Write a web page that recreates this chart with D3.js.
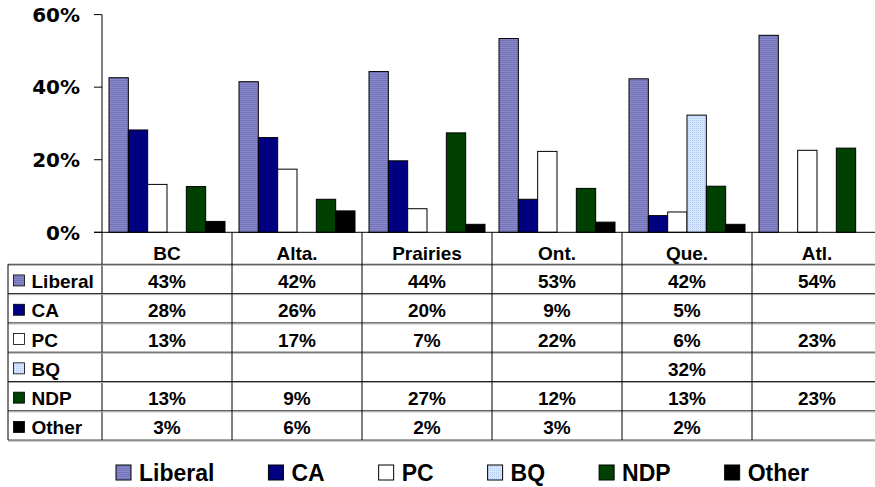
<!DOCTYPE html>
<html>
<head>
<meta charset="utf-8">
<script src="https://cdn.jsdelivr.net/npm/d3@7"></script>
<style>
  body { margin: 0; background: #fff; }
  svg { display: block; }
</style>
</head>
<body>
<div id="chart"></div>
<script>
// regions (columns) and parties (series)
const regions = ["BC", "Alta.", "Prairies", "Ont.", "Que.", "Atl."];
const parties = ["Liberal", "CA", "PC", "BQ", "NDP", "Other"];

// vote share by party, one value per region (null = no entry)
const liberal = [42.6, 41.5, 44.3, 53.4, 42.3, 54.3];
const ca      = [28.2, 26.1, 19.7, 9.1, 4.6, null];
const pc      = [13.2, 17.4, 6.5, 22.3, 5.6, 22.6];
const bq      = [null, null, null, null, 32.3, null];
const ndp     = [12.6, 9.1, 27.4, 12.1, 12.7, 23.2];
const other   = [3.0, 5.9, 2.2, 2.8, 2.2, null];

const yTicks = [0, 20, 40, 60];

const seriesValues = [liberal, ca, pc, bq, ndp, other];

const width = 875, height = 487;
const svg = d3.select("#chart").append("svg")
  .attr("width", width)
  .attr("height", height);

const defs = svg.append("defs");
// striped fill for Liberal
let pl = defs.append("pattern").attr("id", "libFill")
  .attr("patternUnits", "userSpaceOnUse").attr("width", 4).attr("height", 2);
pl.append("rect").attr("width", 4).attr("height", 2).attr("fill", "#8a8acb");
pl.append("rect").attr("width", 4).attr("height", 1).attr("fill", "#7373b9");
// dotted fill for BQ
let pb = defs.append("pattern").attr("id", "bqFill")
  .attr("patternUnits", "userSpaceOnUse").attr("width", 2).attr("height", 2);
pb.append("rect").attr("width", 2).attr("height", 2).attr("fill", "#d6e6ff");
pb.append("rect").attr("width", 1).attr("height", 1).attr("fill", "#b4cbf2");

const fills = {
  "Liberal": "url(#libFill)",
  "CA": "#000080",
  "PC": "#ffffff",
  "BQ": "url(#bqFill)",
  "NDP": "#004000",
  "Other": "#000000"
};

const x0 = d3.scaleBand().domain(regions).range([102, 882]);
const x1 = d3.scaleBand().domain(parties).range([7, x0.bandwidth() - 7]);
const y = d3.scaleLinear().domain([0, 60]).range([232.3, 14.6]);

// bars
const g = svg.append("g");
regions.forEach((r, ri) => {
  parties.forEach((p, pi) => {
    const v = seriesValues[pi][ri];
    if (v == null) return;
    g.append("rect")
      .attr("x", x0(r) + x1(p))
      .attr("y", y(v))
      .attr("width", x1.bandwidth())
      .attr("height", y(0) - y(v))
      .attr("fill", fills[p])
      .attr("stroke", "#000")
      .attr("stroke-width", 1);
  });
});

// y axis
const yAxis = svg.append("g");
yAxis.append("line")
  .attr("x1", 102).attr("x2", 102)
  .attr("y1", y(60)).attr("y2", 440)
  .attr("stroke", "#000");
yTicks.forEach(t => {
  yAxis.append("line")
    .attr("x1", 94).attr("x2", 102)
    .attr("y1", y(t)).attr("y2", y(t))
    .attr("stroke", "#000");
  yAxis.append("text")
    .attr("x", 80).attr("y", y(t))
    .attr("dy", "0.36em")
    .attr("text-anchor", "end")
    .style("font-family", "'DejaVu Sans', Verdana, sans-serif")
    .style("font-weight", "bold")
    .style("font-size", "20px")
    .text(t + "%");
});

// data table
const tableFont = "'Liberation Sans', Arial, sans-serif";
const headTop = 232.3, rowTop = 264.3, rowH = 29.3;
const rowBottom = rowTop + parties.length * rowH;
const tbl = svg.append("g");

// x axis / header top
tbl.append("line")
  .attr("x1", 94).attr("x2", 882)
  .attr("y1", headTop).attr("y2", headTop)
  .attr("stroke", "#000");

// horizontal row lines
for (let i = 0; i <= parties.length; i++) {
  const yy = rowTop + i * rowH;
  tbl.append("line")
    .attr("x1", 8).attr("x2", 882)
    .attr("y1", yy).attr("y2", yy)
    .attr("stroke", "#222");
  tbl.append("line")
    .attr("x1", 8).attr("x2", 882)
    .attr("y1", yy + 1).attr("y2", yy + 1)
    .attr("stroke", "#aaa");
}
// left border
tbl.append("line")
  .attr("x1", 8).attr("x2", 8)
  .attr("y1", rowTop).attr("y2", rowBottom)
  .attr("stroke", "#000");
// column dividers
regions.forEach(r => {
  const xx = x0(r) + x0.bandwidth();
  tbl.append("line")
    .attr("x1", xx).attr("x2", xx)
    .attr("y1", headTop).attr("y2", rowBottom)
    .attr("stroke", "#000");
});

// header labels
regions.forEach(r => {
  tbl.append("text")
    .attr("x", x0(r) + x0.bandwidth() / 2)
    .attr("y", 259.5)
    .attr("text-anchor", "middle")
    .style("font-family", tableFont)
    .style("font-weight", "bold")
    .style("font-size", "19px")
    .text(r);
});

// rows
parties.forEach((p, pi) => {
  const cy = rowTop + pi * rowH + rowH / 2;
  tbl.append("rect")
    .attr("x", 13.5).attr("y", cy - 4)
    .attr("width", 11).attr("height", 11)
    .attr("fill", fills[p])
    .attr("stroke", "#000")
    .attr("stroke-width", 0.8);
  tbl.append("text")
    .attr("x", 31.5).attr("y", cy + 9)
    .style("font-family", tableFont)
    .style("font-weight", "bold")
    .style("font-size", "19px")
    .text(p);
  regions.forEach((r, ri) => {
    const v = seriesValues[pi][ri];
    if (v == null) return;
    tbl.append("text")
      .attr("x", x0(r) + x0.bandwidth() / 2)
      .attr("y", cy + 9)
      .attr("text-anchor", "middle")
      .style("font-family", tableFont)
      .style("font-weight", "bold")
      .style("font-size", "19px")
      .text(Math.round(v) + "%");
  });
});

// legend
const legend = svg.append("g");
let lx = 116;
parties.forEach(p => {
  legend.append("rect")
    .attr("x", lx).attr("y", 465)
    .attr("width", 15).attr("height", 15)
    .attr("fill", fills[p])
    .attr("stroke", "#000")
    .attr("stroke-width", 1);
  const t = legend.append("text")
    .attr("x", lx + 23).attr("y", 481)
    .style("font-family", tableFont)
    .style("font-weight", "bold")
    .style("font-size", "23px")
    .text(p);
  lx += 23 + t.node().getComputedTextLength() + 54;
});
</script>
</body>
</html>
